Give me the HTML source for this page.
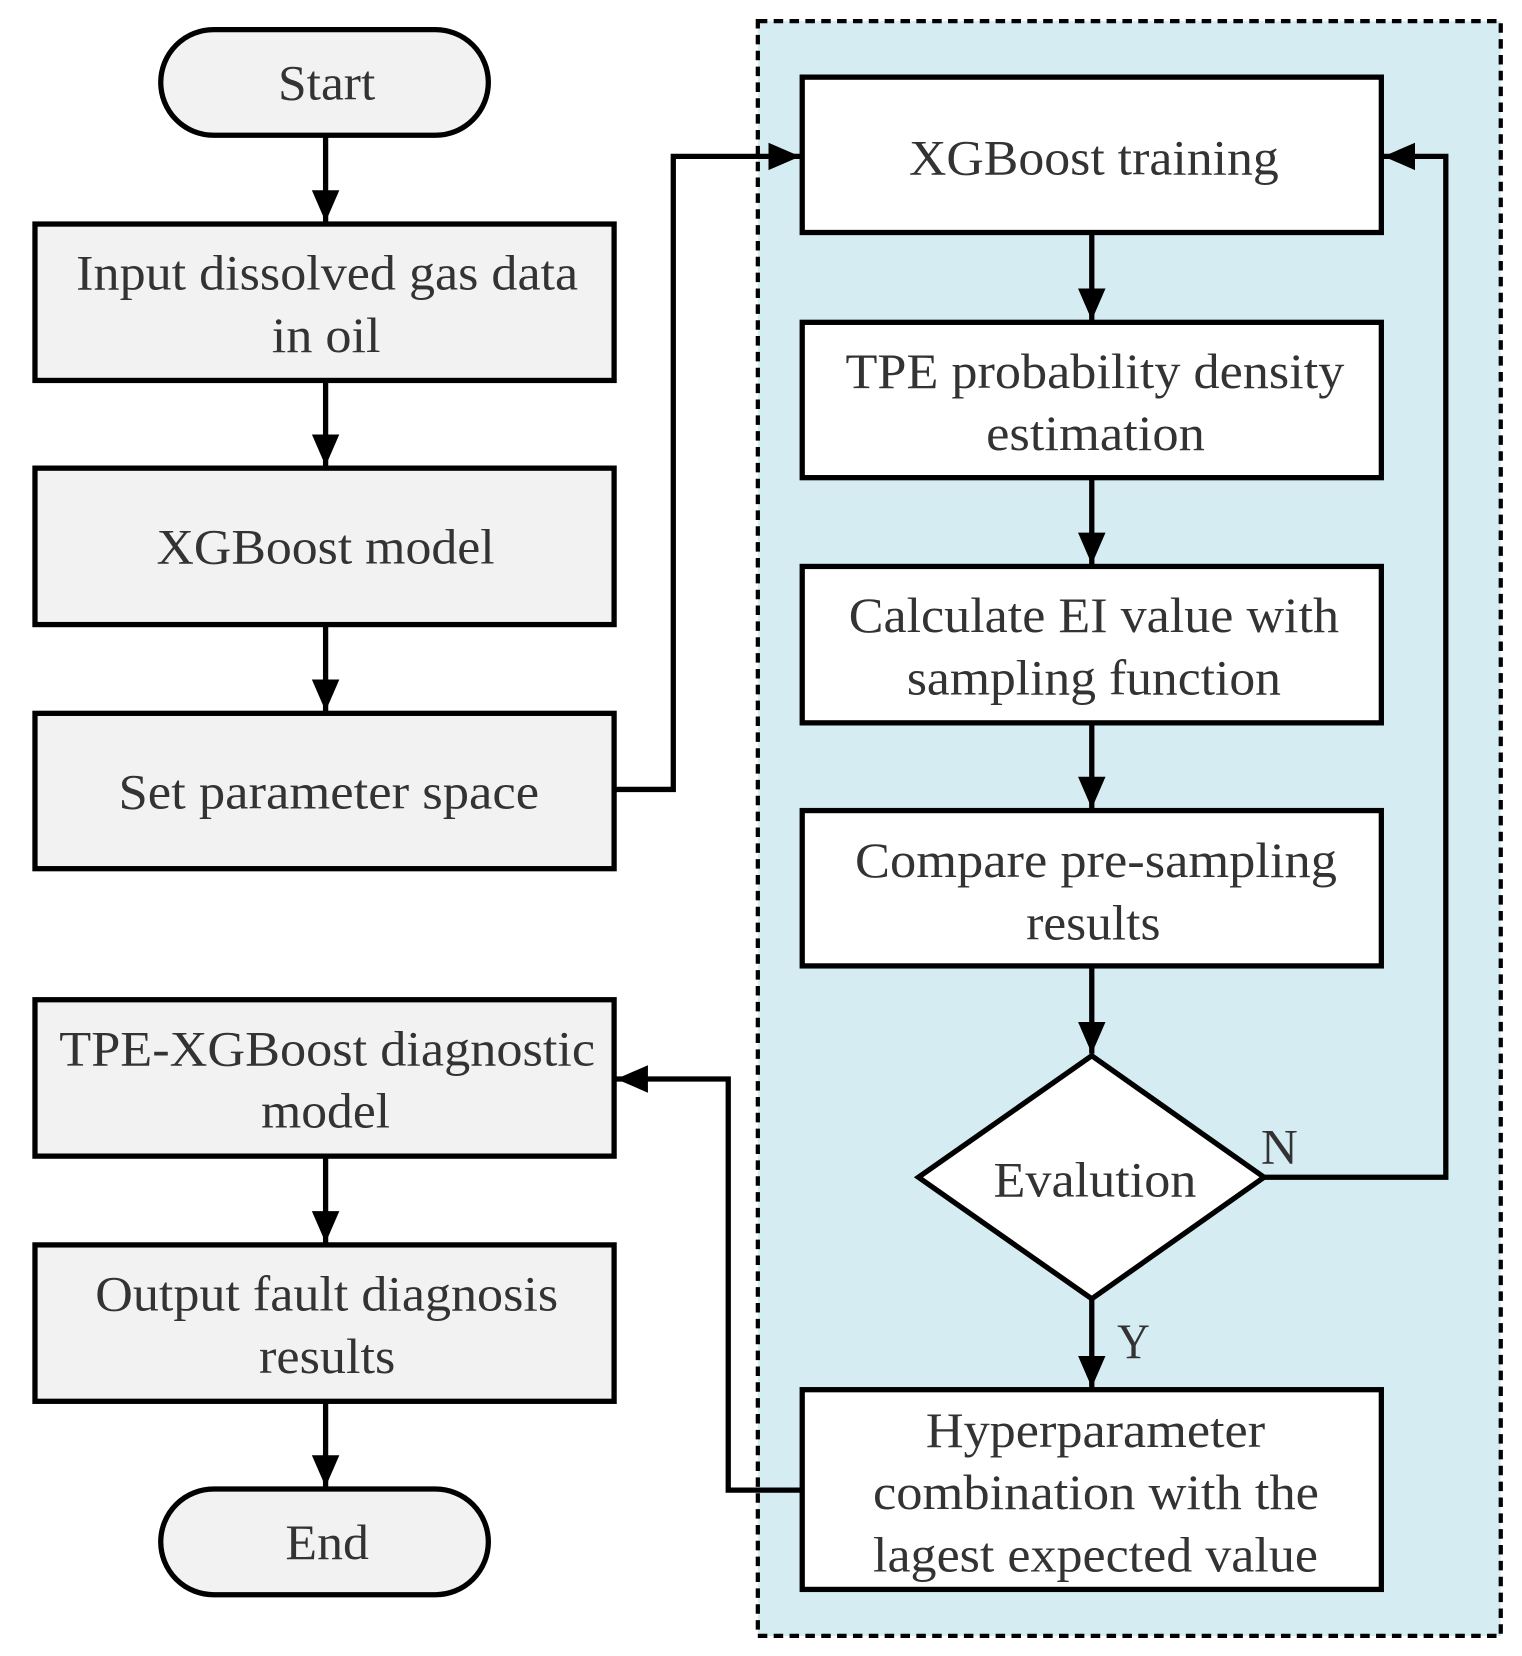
<!DOCTYPE html>
<html><head><style>html,body{margin:0;padding:0;background:#fff}svg{display:block}</style></head>
<body>
<svg width="1522" height="1656" viewBox="0 0 1440 1567" xmlns="http://www.w3.org/2000/svg" font-family="Liberation Serif, serif" font-size="47" fill="#333">
<defs><marker id="b" viewBox="0 0 30 30" refX="30" refY="15" markerWidth="30" markerHeight="30" markerUnits="userSpaceOnUse" orient="auto"><path d="M0,2 L30,15 L0,28 z" fill="#000"/></marker></defs>
<rect x="717" y="20" width="703" height="1528" fill="#d5edf2" stroke="#000" stroke-width="4" stroke-dasharray="9,6"/>
<g stroke="#000" stroke-width="5" fill="none">
<path d="M308,128 V210" marker-end="url(#b)"/>
<path d="M308,360 V441" marker-end="url(#b)"/>
<path d="M308,591 V673" marker-end="url(#b)"/>
<path d="M308,1094 V1176" marker-end="url(#b)"/>
<path d="M308,1326 V1407" marker-end="url(#b)"/>
<path d="M581,747 H637 V148 H757" marker-end="url(#b)"/>
<path d="M1033,220 V303" marker-end="url(#b)"/>
<path d="M1033,452 V534" marker-end="url(#b)"/>
<path d="M1033,684 V765" marker-end="url(#b)"/>
<path d="M1033,914 V997" marker-end="url(#b)"/>
<path d="M1033,1229 V1313" marker-end="url(#b)"/>
<path d="M1196,1114 H1368 V148 H1309" marker-end="url(#b)"/>
<path d="M759,1410 H689 V1021 H583" marker-end="url(#b)"/>
</g>
<g stroke="#000" stroke-width="5">
<rect x="152" y="28" width="310" height="100" rx="50" fill="#f2f2f2"/>
<rect x="152" y="1409" width="310" height="100" rx="50" fill="#f2f2f2"/>
<rect x="33" y="212" width="548" height="148" fill="#f2f2f2"/>
<rect x="33" y="443" width="548" height="148" fill="#f2f2f2"/>
<rect x="33" y="675" width="548" height="147" fill="#f2f2f2"/>
<rect x="33" y="946" width="548" height="148" fill="#f2f2f2"/>
<rect x="33" y="1178" width="548" height="148" fill="#f2f2f2"/>
<rect x="759" y="73" width="548" height="147" fill="#fff"/>
<rect x="759" y="305" width="548" height="147" fill="#fff"/>
<rect x="759" y="536" width="548" height="148" fill="#fff"/>
<rect x="759" y="767" width="548" height="147" fill="#fff"/>
<path d="M1033,999 L1196,1114 L1033,1229 L869,1114 Z" fill="#fff"/>
<rect x="759" y="1315" width="548" height="189" fill="#fff"/>
</g>
<g lengthAdjust="spacingAndGlyphs">
<text x="263" y="94" textLength="92" lengthAdjust="spacingAndGlyphs">Start</text>
<text x="270" y="1475" textLength="79" lengthAdjust="spacingAndGlyphs">End</text>
<text x="72" y="274" textLength="475" lengthAdjust="spacingAndGlyphs">Input  dissolved gas data</text>
<text x="257" y="333" textLength="103" lengthAdjust="spacingAndGlyphs">in oil</text>
<text x="148" y="533" textLength="320" lengthAdjust="spacingAndGlyphs">XGBoost model</text>
<text x="112" y="765" textLength="398" lengthAdjust="spacingAndGlyphs">Set parameter space</text>
<text x="56" y="1008" textLength="507" lengthAdjust="spacingAndGlyphs">TPE-XGBoost diagnostic</text>
<text x="247" y="1067" textLength="122" lengthAdjust="spacingAndGlyphs">model</text>
<text x="90" y="1240" textLength="438" lengthAdjust="spacingAndGlyphs">Output fault diagnosis</text>
<text x="245" y="1299" textLength="129" lengthAdjust="spacingAndGlyphs">results</text>
<text x="860" y="165" textLength="350" lengthAdjust="spacingAndGlyphs">XGBoost training</text>
<text x="800" y="367" textLength="472" lengthAdjust="spacingAndGlyphs">TPE probability  density</text>
<text x="933" y="426" textLength="207" lengthAdjust="spacingAndGlyphs">estimation</text>
<text x="803" y="598" textLength="464" lengthAdjust="spacingAndGlyphs">Calculate EI value with</text>
<text x="858" y="657" textLength="354" lengthAdjust="spacingAndGlyphs">sampling function</text>
<text x="809" y="830" textLength="456" lengthAdjust="spacingAndGlyphs">Compare pre-sampling</text>
<text x="971" y="889" textLength="127" lengthAdjust="spacingAndGlyphs">results</text>
<text x="940" y="1132" textLength="192" lengthAdjust="spacingAndGlyphs">Evalution</text>
<text x="876" y="1369" textLength="321" lengthAdjust="spacingAndGlyphs">Hyperparameter</text>
<text x="826" y="1428" textLength="422" lengthAdjust="spacingAndGlyphs">combination with the</text>
<text x="826" y="1487" textLength="421" lengthAdjust="spacingAndGlyphs">lagest expected value</text>
<text x="1193" y="1101" textLength="35" lengthAdjust="spacingAndGlyphs">N</text>
<text x="1057" y="1285" textLength="31" lengthAdjust="spacingAndGlyphs">Y</text>
</g>
</svg>
</body></html>
